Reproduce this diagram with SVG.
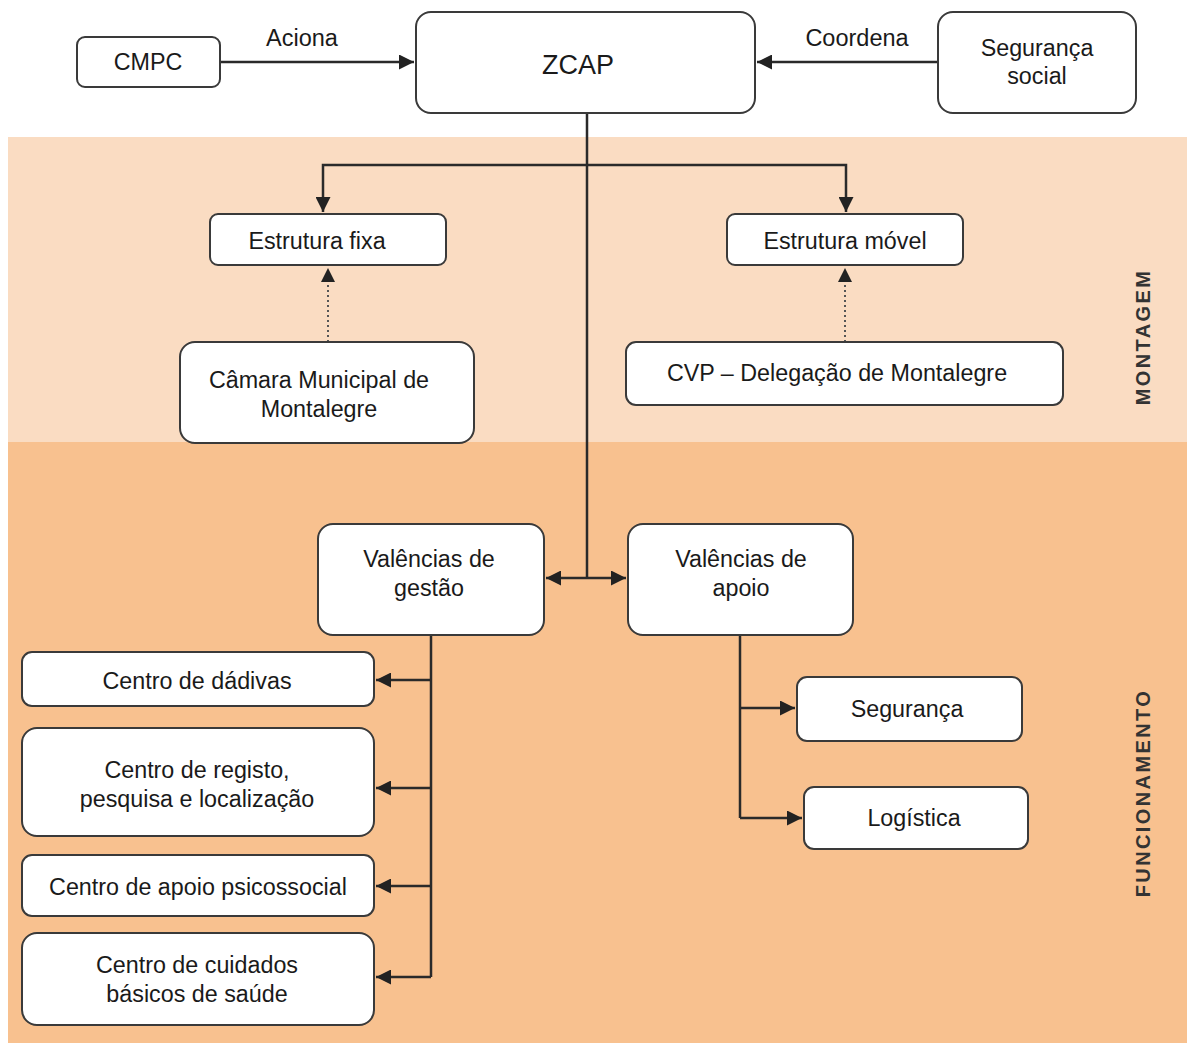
<svg xmlns="http://www.w3.org/2000/svg" width="1187" height="1043" viewBox="0 0 1187 1043">
<style>
.box{fill:#fff;stroke:#3a3a3a;stroke-width:2}
.t{font-family:"Liberation Sans",Arial,sans-serif;font-size:23.3px;fill:#1a1a1a;text-anchor:middle;dominant-baseline:central}
.lbl{font-family:"Liberation Sans",Arial,sans-serif;font-size:23.5px;fill:#1a1a1a;text-anchor:middle;dominant-baseline:central}
.band{font-family:"Liberation Sans",Arial,sans-serif;font-size:20px;font-weight:bold;letter-spacing:2.4px;fill:#333;text-anchor:middle;dominant-baseline:central}
.ln{fill:none;stroke:#2a2a2a;stroke-width:2.5}
.dot{fill:none;stroke:#555;stroke-width:2;stroke-dasharray:2 3}
</style>
<defs>
<marker id="ah" viewBox="0 0 10 10" refX="10" refY="5" markerWidth="6" markerHeight="6" orient="auto-start-reverse" markerUnits="strokeWidth">
<path d="M0,0 L10,5 L0,10 z" fill="#222"/>
</marker>
<marker id="ahs" viewBox="0 0 10 10" refX="10" refY="5" markerWidth="7" markerHeight="7" orient="auto-start-reverse" markerUnits="strokeWidth">
<path d="M0,0 L10,5 L0,10 z" fill="#222"/>
</marker>
</defs>
<rect width="1187" height="1043" fill="#fff"/>
<rect x="8" y="137" width="1179" height="305" fill="#fadcc2"/>
<rect x="8" y="442" width="1179" height="601" fill="#f8c18f"/>
<text class="band" transform="translate(1143,337) rotate(-90)">MONTAGEM</text>
<text class="band" transform="translate(1143,793) rotate(-90)">FUNCIONAMENTO</text>

<g id="connectors">
<line class="ln" x1="220" y1="62" x2="414" y2="62" marker-end="url(#ah)"/>
<text class="lbl" x="302" y="38">Aciona</text>
<line class="ln" x1="938" y1="62" x2="757" y2="62" marker-end="url(#ah)"/>
<text class="lbl" x="857" y="38">Coordena</text>
<line class="ln" x1="587" y1="113" x2="587" y2="578"/>
<path class="ln" d="M323,212 V165 H846 V212" marker-start="url(#ah)" marker-end="url(#ah)"/>
<line class="dot" x1="328" y1="342" x2="328" y2="268" marker-end="url(#ahs)"/>
<line class="dot" x1="845" y1="342" x2="845" y2="268" marker-end="url(#ahs)"/>
<line class="ln" x1="546" y1="578" x2="626" y2="578" marker-start="url(#ah)" marker-end="url(#ah)"/>
<path class="ln" d="M431,635 V977"/>
<line class="ln" x1="431" y1="680" x2="376" y2="680" marker-end="url(#ah)"/>
<line class="ln" x1="431" y1="788" x2="376" y2="788" marker-end="url(#ah)"/>
<line class="ln" x1="431" y1="886" x2="376" y2="886" marker-end="url(#ah)"/>
<line class="ln" x1="431" y1="977" x2="376" y2="977" marker-end="url(#ah)"/>
<path class="ln" d="M740,635 V818"/>
<line class="ln" x1="740" y1="708" x2="795" y2="708" marker-end="url(#ah)"/>
<line class="ln" x1="740" y1="818" x2="802" y2="818" marker-end="url(#ah)"/>
</g>

<g id="cmpc"><rect class="box" x="77" y="37" width="143" height="50" rx="8"/><text class="t" x="148" y="62">CMPC</text></g>
<g id="zcap"><rect class="box" x="416" y="12" width="339" height="101" rx="15"/><text class="t" x="578" y="65" style="font-size:27px">ZCAP</text></g>
<g id="seg-social"><rect class="box" x="938" y="12" width="198" height="101" rx="15"/><text class="t" x="1037" y="48">Segurança</text><text class="t" x="1037" y="76">social</text></g>
<g id="est-fixa"><rect class="box" x="210" y="214" width="236" height="51" rx="8"/><text class="t" x="317" y="241">Estrutura fixa</text></g>
<g id="est-movel"><rect class="box" x="727" y="214" width="236" height="51" rx="8"/><text class="t" x="845" y="241">Estrutura móvel</text></g>
<g id="camara"><rect class="box" x="180" y="342" width="294" height="101" rx="15"/><text class="t" x="319" y="380">Câmara Municipal de</text><text class="t" x="319" y="409">Montalegre</text></g>
<g id="cvp"><rect class="box" x="626" y="342" width="437" height="63" rx="10"/><text class="t" x="837" y="373">CVP – Delegação de Montalegre</text></g>
<g id="val-gestao"><rect class="box" x="318" y="524" width="226" height="111" rx="15"/><text class="t" x="429" y="559">Valências de</text><text class="t" x="429" y="588">gestão</text></g>
<g id="val-apoio"><rect class="box" x="628" y="524" width="225" height="111" rx="15"/><text class="t" x="741" y="559">Valências de</text><text class="t" x="741" y="588">apoio</text></g>
<g id="dadivas"><rect class="box" x="22" y="652" width="352" height="54" rx="10"/><text class="t" x="197" y="681">Centro de dádivas</text></g>
<g id="registo"><rect class="box" x="22" y="728" width="352" height="108" rx="15"/><text class="t" x="197" y="770">Centro de registo,</text><text class="t" x="197" y="799">pesquisa e localização</text></g>
<g id="psicossocial"><rect class="box" x="22" y="855" width="352" height="61" rx="10"/><text class="t" x="198" y="887">Centro de apoio psicossocial</text></g>
<g id="cuidados"><rect class="box" x="22" y="933" width="352" height="92" rx="15"/><text class="t" x="197" y="965">Centro de cuidados</text><text class="t" x="197" y="994">básicos de saúde</text></g>
<g id="seguranca"><rect class="box" x="797" y="677" width="225" height="64" rx="10"/><text class="t" x="907" y="709">Segurança</text></g>
<g id="logistica"><rect class="box" x="804" y="787" width="224" height="62" rx="10"/><text class="t" x="914" y="818">Logística</text></g>
</svg>
